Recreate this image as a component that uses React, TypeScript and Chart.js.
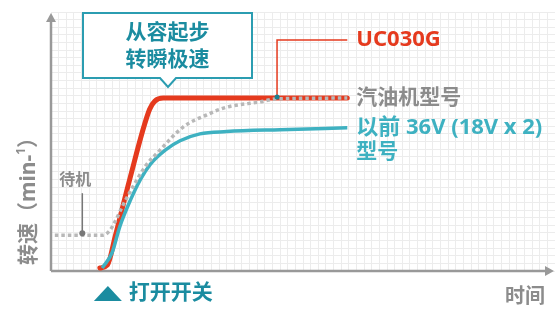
import { useEffect, useRef } from "react";
import { Chart, registerables } from "chart.js";

Chart.register(...registerables);

// Schematic units: one grid cell = 1 unit
const X_MAX = 66;
const Y_MAX = 34;
const LINE_END = 38.8;

// UC030G (red)
const uc030gX = [6.4, 7.4, 8.4, 10.3, 12.9, 13.6, 14.7, 38.8];
const uc030gY = [0.4, 0.8, 4.5, 12.0, 21.2, 22.3, 22.7, 22.7];

// Petrol engine model (gray dotted)
const petrolX = [0.5, 6.8, 7.6, 8.4, 9.4, 10.7, 12.4, 14.3, 17.3, 20.4, 23.0, 27.4, 29.5, 38.8];
const petrolY = [4.7, 4.7, 5.2, 6.5, 8.6, 11.0, 13.8, 15.9, 18.9, 20.5, 21.5, 22.2, 22.6, 22.7];

// Previous 36V (18V x 2) model (teal)
const prevX = [6.7, 8.0, 9.0, 10.4, 11.7, 13.0, 15.0, 16.9, 19.5, 23.0, 30.0, 38.8];
const prevY = [0.4, 2.4, 5.8, 9.3, 12.0, 14.0, 15.9, 17.1, 18.0, 18.3, 18.55, 18.8];

const STANDBY_X = 4.1;
const LEADER_X = 29.6;

const labelUC = "UC030G";
const labelPetrol = "汽油机型号";
const labelPrev1 = "以前 36V (18V x 2)";
const labelPrev2 = "型号";
const calloutLines = ["从容起步", "转瞬极速"];
const standbyLabel = "待机";
const switchLabel = "打开开关";
const xTitle = "时间";
const yTitleMain = "转速（min-";
const yTitleSup = "1";
const yTitleEnd = "）";

const RED = "#e53a1e";
const TEAL = "#3eb1c1";
const TEAL_DARK = "#1b8ca0";
const GRAY = "#8c8c8c";
const DOT_GRAY = "#b8b8b8";
const FONT = "'Noto Sans', 'Noto Sans CJK SC', sans-serif";

const toPts = (xs: number[], ys: number[]) => xs.map((x, i) => ({ x, y: ys[i] }));

const decor = {
  id: "decor",
  beforeDatasetsDraw(chart: any) {
    const { ctx, chartArea: a } = chart;
    ctx.save();
    ctx.strokeStyle = "#999";
    ctx.fillStyle = "#999";
    ctx.lineWidth = 2.5;
    ctx.beginPath();
    ctx.moveTo(a.left, a.bottom);
    ctx.lineTo(a.left, a.top + 6);
    ctx.stroke();
    ctx.beginPath();
    ctx.moveTo(a.left, a.top + 1);
    ctx.lineTo(a.left - 5, a.top + 10);
    ctx.lineTo(a.left + 5, a.top + 10);
    ctx.closePath();
    ctx.fill();
    ctx.beginPath();
    ctx.moveTo(a.left, a.bottom);
    ctx.lineTo(a.right - 6, a.bottom);
    ctx.stroke();
    ctx.beginPath();
    ctx.moveTo(a.right - 1, a.bottom);
    ctx.lineTo(a.right - 10, a.bottom - 5);
    ctx.lineTo(a.right - 10, a.bottom + 5);
    ctx.closePath();
    ctx.fill();
    ctx.restore();
  },
  afterDatasetsDraw(chart: any) {
    const { ctx, chartArea: a, scales } = chart;
    const xs = scales.x;
    const ys = scales.y;
    ctx.save();

    // Callout box
    const bx = 83, by = 13, bw = 169, bh = 65, px = 168;
    ctx.beginPath();
    ctx.moveTo(bx, by);
    ctx.lineTo(bx + bw, by);
    ctx.lineTo(bx + bw, by + bh);
    ctx.lineTo(px + 8, by + bh);
    ctx.lineTo(px, by + bh + 9);
    ctx.lineTo(px - 8, by + bh);
    ctx.lineTo(bx, by + bh);
    ctx.closePath();
    ctx.fillStyle = "#fff";
    ctx.fill();
    ctx.strokeStyle = "#2b9db1";
    ctx.lineWidth = 2;
    ctx.stroke();
    ctx.fillStyle = TEAL_DARK;
    ctx.font = `bold 21px ${FONT}`;
    ctx.textAlign = "center";
    ctx.textBaseline = "middle";
    ctx.fillText(calloutLines[0], bx + bw / 2, 33);
    ctx.fillText(calloutLines[1], bx + bw / 2, 60);

    // Leader to UC030G
    const endPx = xs.getPixelForValue(LINE_END);
    const lx = xs.getPixelForValue(LEADER_X);
    const ly = ys.getPixelForValue(uc030gY[uc030gY.length - 1]);
    ctx.strokeStyle = RED;
    ctx.lineWidth = 1.5;
    ctx.beginPath();
    ctx.moveTo(lx, ly);
    ctx.lineTo(lx, 40);
    ctx.lineTo(endPx, 40);
    ctx.stroke();
    ctx.fillStyle = "#1b7f90";
    ctx.beginPath();
    ctx.arc(lx, ly - 1, 2.5, 0, Math.PI * 2);
    ctx.fill();

    // Right labels
    const tx = endPx + 9;
    ctx.textAlign = "left";
    ctx.textBaseline = "middle";
    ctx.font = `bold 22px ${FONT}`;
    ctx.fillStyle = RED;
    ctx.fillText(labelUC, tx, 40);
    ctx.font = `bold 21px ${FONT}`;
    ctx.fillStyle = GRAY;
    ctx.fillText(labelPetrol, tx, ys.getPixelForValue(petrolY[petrolY.length - 1]));
    ctx.fillStyle = TEAL;
    const ty = ys.getPixelForValue(prevY[prevY.length - 1]);
    ctx.font = `bold 22px ${FONT}`;
    ctx.fillText(labelPrev1, tx, ty);
    ctx.font = `bold 21px ${FONT}`;
    ctx.fillText(labelPrev2, tx, ty + 24);

    // Standby marker
    const sx = xs.getPixelForValue(STANDBY_X);
    const sy = ys.getPixelForValue(petrolY[0]) - 2;
    ctx.strokeStyle = "#777";
    ctx.lineWidth = 1.5;
    ctx.beginPath();
    ctx.moveTo(sx, sy);
    ctx.lineTo(sx, sy - 40);
    ctx.stroke();
    ctx.fillStyle = "#777";
    ctx.beginPath();
    ctx.arc(sx, sy, 3, 0, Math.PI * 2);
    ctx.fill();
    ctx.fillStyle = GRAY;
    ctx.font = `bold 16px ${FONT}`;
    ctx.textAlign = "center";
    ctx.fillText(standbyLabel, sx - 7, sy - 53);

    // Switch on label
    const swx = xs.getPixelForValue(uc030gX[0]);
    ctx.fillStyle = TEAL_DARK;
    ctx.beginPath();
    ctx.moveTo(swx + 8, 286);
    ctx.lineTo(swx + 22, 301);
    ctx.lineTo(swx - 6, 301);
    ctx.closePath();
    ctx.fill();
    ctx.font = `bold 21px ${FONT}`;
    ctx.textAlign = "left";
    ctx.fillText(switchLabel, swx + 29, 293);

    // x title
    ctx.fillStyle = GRAY;
    ctx.font = `bold 20px ${FONT}`;
    ctx.textAlign = "right";
    ctx.fillText(xTitle, a.right - 10, 297);

    // y title
    ctx.translate(29, 196);
    ctx.rotate(-Math.PI / 2);
    ctx.font = `bold 21px ${FONT}`;
    const w1 = ctx.measureText(yTitleMain).width;
    ctx.font = `bold 12px ${FONT}`;
    const w2 = ctx.measureText(yTitleSup).width;
    ctx.font = `bold 21px ${FONT}`;
    const w3 = ctx.measureText(yTitleEnd).width;
    const x0 = -(w1 + w2 + w3) / 2;
    ctx.textAlign = "left";
    ctx.fillText(yTitleMain, x0, 0);
    ctx.font = `bold 12px ${FONT}`;
    ctx.fillText(yTitleSup, x0 + w1, -7);
    ctx.font = `bold 21px ${FONT}`;
    ctx.fillText(yTitleEnd, x0 + w1 + w2, 0);

    ctx.restore();
  },
};

export default function App() {
  const ref = useRef<HTMLCanvasElement>(null);
  useEffect(() => {
    const chart = new Chart(ref.current!, {
      type: "line",
      data: {
        datasets: [
          {
            label: labelUC,
            data: toPts(uc030gX, uc030gY),
            borderColor: RED,
            borderWidth: 5,
            pointRadius: 0,
            cubicInterpolationMode: "monotone",
            borderCapStyle: "round",
            order: 3,
          },
          {
            label: labelPrev1,
            data: toPts(prevX, prevY),
            borderColor: TEAL,
            borderWidth: 3.5,
            pointRadius: 0,
            cubicInterpolationMode: "monotone",
            order: 2,
          },
          {
            label: labelPetrol,
            data: toPts(petrolX, petrolY),
            borderColor: DOT_GRAY,
            borderWidth: 3.5,
            borderDash: [3.5, 3],
            pointRadius: 0,
            cubicInterpolationMode: "monotone",
            order: 1,
          },
        ],
      },
      options: {
        animation: false,
        responsive: false,
        events: [],
        layout: { padding: { left: 51, right: 0, top: 12, bottom: 39 } },
        plugins: { legend: { display: false }, tooltip: { enabled: false } },
        scales: {
          x: {
            type: "linear",
            min: 0,
            max: X_MAX,
            ticks: { display: false, stepSize: 1 },
            grid: { color: "#ececec", lineWidth: 1, drawTicks: false },
            border: { display: false },
          },
          y: {
            type: "linear",
            min: 0,
            max: Y_MAX,
            ticks: { display: false, stepSize: 1 },
            grid: { color: "#ececec", lineWidth: 1, drawTicks: false },
            border: { display: false },
          },
        },
      },
      plugins: [decor],
    });
    return () => chart.destroy();
  }, []);
  return (
    <div style={{ position: "fixed", left: 0, top: 0, width: 555, height: 310, background: "#fff" }}>
      <canvas ref={ref} width={555} height={310} style={{ display: "block" }} />
    </div>
  );
}
